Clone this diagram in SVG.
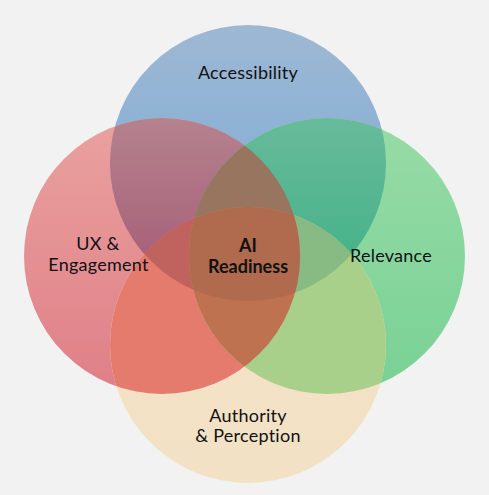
<svg xmlns="http://www.w3.org/2000/svg" width="489" height="495" viewBox="0 0 489 495">
<style>
.lbl{font-family:Lato,"Noto Sans","Liberation Sans",sans-serif;font-size:18px;letter-spacing:0.25px;fill:#111;text-anchor:middle}
.bold{font-weight:bold;letter-spacing:0}
</style>
<defs>
<linearGradient id="gB" x1="0" y1="0" x2="0" y2="1"><stop offset="0" stop-color="#9eb8d3"/><stop offset="1" stop-color="#74a9d8"/></linearGradient>
<linearGradient id="gR" x1="0" y1="0" x2="0" y2="1"><stop offset="0" stop-color="#eaa1a0"/><stop offset="1" stop-color="#df7f87"/></linearGradient>
<linearGradient id="gG" x1="0" y1="0" x2="0" y2="1"><stop offset="0" stop-color="#98dba7"/><stop offset="1" stop-color="#78d195"/></linearGradient>
<linearGradient id="gY" x1="0" y1="0" x2="0" y2="1"><stop offset="0" stop-color="#f5e3c8"/><stop offset="1" stop-color="#f3e1c5"/></linearGradient>
<linearGradient id="gBR" x1="0" y1="0" x2="0" y2="1"><stop offset="0" stop-color="#b5828d"/><stop offset="0.5" stop-color="#a7627b"/></linearGradient>
<linearGradient id="gBG" x1="0" y1="0" x2="0" y2="1"><stop offset="0" stop-color="#68bb9a"/><stop offset="0.5" stop-color="#47b38a"/></linearGradient>
<clipPath id="cpB"><circle cx="248" cy="163" r="138"/></clipPath>
<clipPath id="cpR"><circle cx="162" cy="256" r="138"/></clipPath>
<clipPath id="cpG"><circle cx="327" cy="256" r="138"/></clipPath>
<clipPath id="cpY"><circle cx="248" cy="345" r="138"/></clipPath>
</defs>
<rect width="489" height="495" fill="#f2f2f2"/>
<g id="node-accessibility"><circle cx="248" cy="163" r="138" fill="url(#gB)"/></g>
<g id="node-ux"><circle cx="162" cy="256" r="138" fill="url(#gR)"/></g>
<g id="node-relevance"><circle cx="327" cy="256" r="138" fill="url(#gG)"/></g>
<g id="node-authority"><circle cx="248" cy="345" r="138" fill="url(#gY)"/></g>
<g id="overlaps">
  <g clip-path="url(#cpB)"><circle cx="162" cy="256" r="138" fill="url(#gBR)"/></g>
  <g clip-path="url(#cpB)"><circle cx="327" cy="256" r="138" fill="url(#gBG)"/></g>
  <g clip-path="url(#cpR)"><circle cx="248" cy="345" r="138" fill="#e47b6d"/></g>
  <g clip-path="url(#cpG)"><circle cx="248" cy="345" r="138" fill="#a9d08b"/></g>
  <g clip-path="url(#cpB)"><g clip-path="url(#cpR)"><circle cx="327" cy="256" r="138" fill="#97755f"/></g></g>
  <g clip-path="url(#cpB)"><g clip-path="url(#cpR)"><circle cx="248" cy="345" r="138" fill="#c0635f"/></g></g>
  <g clip-path="url(#cpB)"><g clip-path="url(#cpG)"><circle cx="248" cy="345" r="138" fill="#88ba83"/></g></g>
  <g clip-path="url(#cpR)"><g clip-path="url(#cpG)"><circle cx="248" cy="345" r="138" fill="#be7250"/></g></g>
  <g clip-path="url(#cpB)"><g clip-path="url(#cpR)"><g clip-path="url(#cpG)"><circle cx="248" cy="345" r="138" fill="#b06a4d"/></g></g></g>
</g>
<g id="labels">
  <text class="lbl" x="248" y="79">Accessibility</text>
  <text class="lbl" x="98" y="250">UX &amp;</text>
  <text class="lbl" x="98.5" y="271">Engagement</text>
  <text class="lbl bold" x="248" y="252">AI</text>
  <text class="lbl bold" x="248" y="272.5">Readiness</text>
  <text class="lbl" x="391" y="262">Relevance</text>
  <text class="lbl" x="248" y="421.5">Authority</text>
  <text class="lbl" x="248" y="441.5">&amp; Perception</text>
</g>
</svg>
